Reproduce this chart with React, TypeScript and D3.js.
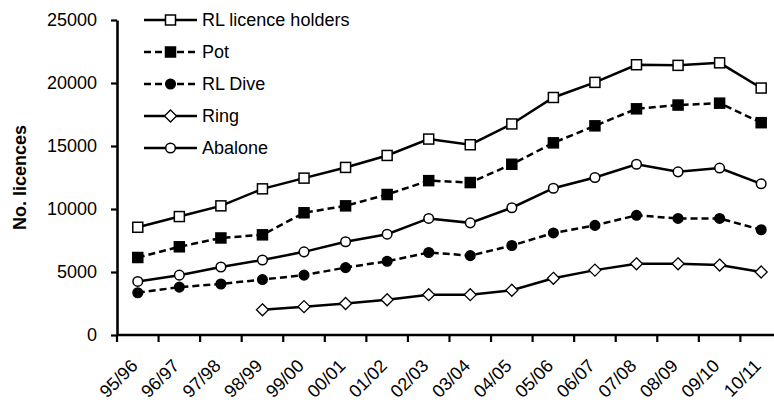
import * as d3 from 'd3';
import React, { useRef, useEffect } from 'react';

// season labels on the x axis
const seasons = ['95/96', '96/97', '97/98', '98/99', '99/00', '00/01', '01/02', '02/03',
    '03/04', '04/05', '05/06', '06/07', '07/08', '08/09', '09/10', '10/11'];

const yTicks = [0, 5000, 10000, 15000, 20000, 25000];

// values
const rlHolders = [8550, 9400, 10250, 11600, 12450, 13300, 14250, 15550, 15100, 16750, 18850, 20050, 21450, 21400, 21600, 19600];
const pot = [6150, 7000, 7700, 7950, 9700, 10250, 11150, 12250, 12100, 13550, 15250, 16600, 17950, 18250, 18400, 16850];
const rlDive = [3350, 3800, 4050, 4400, 4750, 5350, 5850, 6550, 6300, 7100, 8100, 8700, 9500, 9250, 9250, 8350];
const ring = [null, null, null, 2000, 2250, 2500, 2800, 3200, 3200, 3550, 4500, 5150, 5650, 5650, 5550, 5000];
const abalone = [4250, 4750, 5400, 5950, 6600, 7400, 8000, 9250, 8900, 10100, 11650, 12500, 13550, 12950, 13250, 12000];

const series = [
    { name: 'RL licence holders', values: rlHolders, dashed: false, marker: 'square', fill: '#fff' },
    { name: 'Pot', values: pot, dashed: true, marker: 'square', fill: '#000' },
    { name: 'RL Dive', values: rlDive, dashed: true, marker: 'circle', fill: '#000' },
    { name: 'Ring', values: ring, dashed: false, marker: 'diamond', fill: '#fff' },
    { name: 'Abalone', values: abalone, dashed: false, marker: 'circle', fill: '#fff' },
];

const FONT = '"Liberation Sans", Arial, sans-serif';

function drawMarker(g, type, fill, cx, cy) {
    if (type === 'square') {
        g.append('rect')
            .attr('x', cx - 5).attr('y', cy - 5)
            .attr('width', 10).attr('height', 10)
            .attr('fill', fill).attr('stroke', '#000').attr('stroke-width', 1.5);
    } else if (type === 'circle') {
        g.append('circle')
            .attr('cx', cx).attr('cy', cy).attr('r', 4.8)
            .attr('fill', fill).attr('stroke', '#000').attr('stroke-width', 1.5);
    } else {
        const r = 6;
        g.append('path')
            .attr('d', `M${cx},${cy - r}L${cx + r},${cy}L${cx},${cy + r}L${cx - r},${cy}Z`)
            .attr('fill', fill).attr('stroke', '#000').attr('stroke-width', 1.3);
    }
}

function LicenceChart() {
    const ref = useRef();

    useEffect(() => {
        const svg = d3.select(ref.current);
        svg.selectAll('*').remove();

        const left = 117, bottom = 335, top = 20;
        const step = 41.56;

        const x = d3.scaleBand()
            .domain(seasons)
            .range([left, left + step * seasons.length]);
        const cx = s => x(s) + x.bandwidth() / 2;

        const y = d3.scaleLinear()
            .domain([0, 25000])
            .range([bottom, top]);

        // y axis
        const yAxis = d3.axisLeft(y)
            .tickValues(yTicks)
            .tickSize(6)
            .tickSizeOuter(0)
            .tickPadding(14)
            .tickFormat(d3.format('d'));

        const gy = svg.append('g')
            .attr('transform', `translate(${left},0)`)
            .call(yAxis);
        gy.select('.domain').attr('stroke-width', 2.6);
        gy.selectAll('.tick line').attr('stroke-width', 2.2);
        gy.selectAll('.tick text')
            .attr('font-family', FONT)
            .attr('font-size', 18)
            .attr('fill', '#000');

        // x axis
        const gx = svg.append('g');
        gx.append('line')
            .attr('x1', left).attr('x2', left + step * seasons.length)
            .attr('y1', bottom).attr('y2', bottom)
            .attr('stroke', '#000').attr('stroke-width', 2.6);
        gx.selectAll('.xtick')
            .data(seasons)
            .enter()
            .append('line')
            .attr('x1', d => x(d)).attr('x2', d => x(d))
            .attr('y1', bottom).attr('y2', bottom + 7)
            .attr('stroke', '#000').attr('stroke-width', 2.2);
        gx.selectAll('.xlabel')
            .data(seasons)
            .enter()
            .append('text')
            .attr('transform', d => `translate(${cx(d) + 1},${bottom + 32}) rotate(-45)`)
            .attr('text-anchor', 'end')
            .attr('font-family', FONT)
            .attr('font-size', 18)
            .text(d => d);

        // y title
        svg.append('text')
            .attr('transform', `translate(26,${(top + bottom) / 2}) rotate(-90)`)
            .attr('text-anchor', 'middle')
            .attr('font-family', FONT)
            .attr('font-size', 18)
            .attr('font-weight', 'bold')
            .text('No. licences');

        const line = d3.line()
            .defined(d => d != null)
            .x((d, i) => cx(seasons[i]))
            .y(d => y(d));

        series.forEach(s => {
            const g = svg.append('g');
            g.append('path')
                .datum(s.values)
                .attr('d', line)
                .attr('fill', 'none')
                .attr('stroke', '#000')
                .attr('stroke-width', 2.5)
                .attr('stroke-dasharray', s.dashed ? '7,4' : null);
            s.values.forEach((v, i) => {
                if (v != null) drawMarker(g, s.marker, s.fill, cx(seasons[i]), y(v));
            });
        });

        // legend
        const legend = svg.append('g');
        series.forEach((s, i) => {
            const ly = 20 + i * 32;
            legend.append('line')
                .attr('x1', 144).attr('x2', 197)
                .attr('y1', ly).attr('y2', ly)
                .attr('stroke', '#000').attr('stroke-width', 2.5)
                .attr('stroke-dasharray', s.dashed ? '7,4' : null);
            drawMarker(legend, s.marker, s.fill, 170.5, ly);
            legend.append('text')
                .attr('x', 202).attr('y', ly)
                .attr('dy', '0.35em')
                .attr('font-family', FONT)
                .attr('font-size', 18)
                .text(s.name);
        });
    }, []);

    return (
        <svg ref={ref} width={774} height={403}
             style={{ position: 'absolute', left: 0, top: 0, background: '#fff' }} />
    );
}

export default function App() {
    return <LicenceChart />;
}
